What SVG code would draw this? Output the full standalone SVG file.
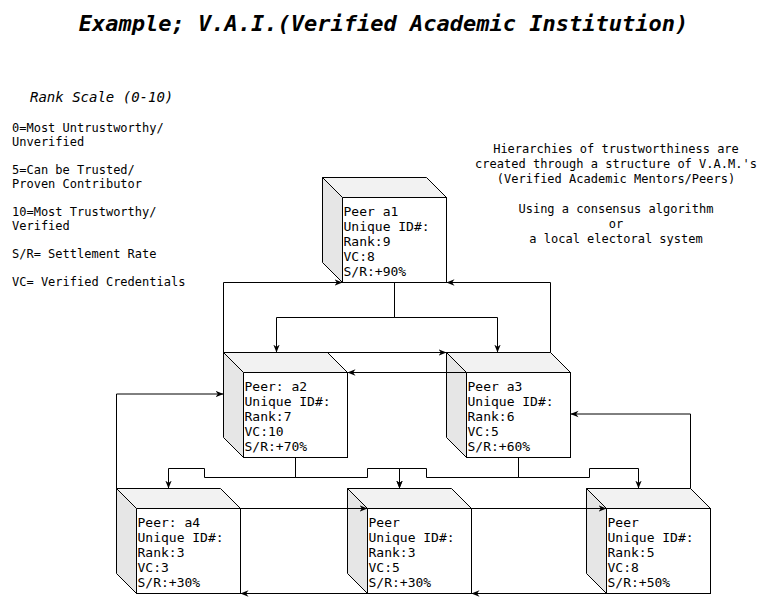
<svg xmlns="http://www.w3.org/2000/svg" width="777" height="612" viewBox="0 0 777 612">
<defs>
<style>
text{font-family:"DejaVu Sans Mono","Liberation Mono",monospace;fill:#000}
.t{font-size:13px}
.s{font-size:12px}
.c{text-anchor:middle}
.front{fill:#fff;stroke:#000;stroke-width:1}
.top{fill:#f2f2f2;stroke:#000;stroke-width:1}
.side{fill:#e6e6e6;stroke:#000;stroke-width:1}
.e{fill:none;stroke:#000;stroke-width:1;marker-end:url(#arr)}
.l{fill:none;stroke:#000;stroke-width:1}
</style>
<marker id="arr" viewBox="0 0 10 10" refX="10" refY="5" markerWidth="8" markerHeight="8" markerUnits="userSpaceOnUse" orient="auto">
<path d="M0,1 L10,5 L0,9 L3,5 z" fill="#000"/>
</marker>
</defs>
<rect width="777" height="612" fill="#fff"/>
<text x="383.5" y="31" class="c" style="font-size:22px;font-weight:bold;font-style:italic">Example; V.A.I.(Verified Academic Institution)</text>
<g id="legend">
<text x="30" y="102" style="font-size:14px;font-style:italic">Rank Scale (0-10)</text>
<text class="s" x="12" y="132">0=Most Untrustworthy/</text>
<text class="s" x="12" y="146">Unverified</text>
<text class="s" x="12" y="174">5=Can be Trusted/</text>
<text class="s" x="12" y="188">Proven Contributor</text>
<text class="s" x="12" y="216">10=Most Trustworthy/</text>
<text class="s" x="12" y="230">Verified</text>
<text class="s" x="12" y="258">S/R= Settlement Rate</text>
<text class="s" x="12" y="286">VC= Verified Credentials</text>
</g>
<g id="note">
<text class="s c" x="616" y="153">Hierarchies of trustworthiness are</text>
<text class="s c" x="616" y="168">created through a structure of V.A.M.'s</text>
<text class="s c" x="616" y="183">(Verified Academic Mentors/Peers)</text>
<text class="s c" x="616" y="213">Using a consensus algorithm</text>
<text class="s c" x="616" y="228">or</text>
<text class="s c" x="616" y="243">a local electoral system</text>
</g>
<g transform="translate(0.5,0.5)">
<g id="a1">
<rect class="front" x="342" y="197" width="104" height="85"/>
<polygon class="top" points="322,177 426,177 446,197 342,197"/>
<polygon class="side" points="322,177 342,197 342,282 322,262"/>
<text class="t" x="343" y="215">Peer a1</text>
<text class="t" x="343" y="230">Unique ID#:</text>
<text class="t" x="343" y="245">Rank:9</text>
<text class="t" x="343" y="260">VC:8</text>
<text class="t" x="343" y="275">S/R:+90%</text>
</g>
<g id="a2">
<rect class="front" x="243" y="372" width="104" height="85"/>
<polygon class="top" points="223,352 327,352 347,372 243,372"/>
<polygon class="side" points="223,352 243,372 243,457 223,437"/>
<text class="t" x="244" y="390">Peer: a2</text>
<text class="t" x="244" y="405">Unique ID#:</text>
<text class="t" x="244" y="420">Rank:7</text>
<text class="t" x="244" y="435">VC:10</text>
<text class="t" x="244" y="450">S/R:+70%</text>
</g>
<g id="a3">
<rect class="front" x="466" y="372" width="104" height="85"/>
<polygon class="top" points="446,352 550,352 570,372 466,372"/>
<polygon class="side" points="446,352 466,372 466,457 446,437"/>
<text class="t" x="467" y="390">Peer a3</text>
<text class="t" x="467" y="405">Unique ID#:</text>
<text class="t" x="467" y="420">Rank:6</text>
<text class="t" x="467" y="435">VC:5</text>
<text class="t" x="467" y="450">S/R:+60%</text>
</g>
<g id="a4">
<rect class="front" x="136" y="508" width="104" height="85"/>
<polygon class="top" points="116,488 220,488 240,508 136,508"/>
<polygon class="side" points="116,488 136,508 136,593 116,573"/>
<text class="t" x="137" y="526">Peer: a4</text>
<text class="t" x="137" y="541">Unique ID#:</text>
<text class="t" x="137" y="556">Rank:3</text>
<text class="t" x="137" y="571">VC:3</text>
<text class="t" x="137" y="586">S/R:+30%</text>
</g>
<g id="peer_mid">
<rect class="front" x="367" y="508" width="104" height="85"/>
<polygon class="top" points="347,488 451,488 471,508 367,508"/>
<polygon class="side" points="347,488 367,508 367,593 347,573"/>
<text class="t" x="368" y="526">Peer</text>
<text class="t" x="368" y="541">Unique ID#:</text>
<text class="t" x="368" y="556">Rank:3</text>
<text class="t" x="368" y="571">VC:5</text>
<text class="t" x="368" y="586">S/R:+30%</text>
</g>
<g id="peer_right">
<rect class="front" x="606" y="508" width="104" height="85"/>
<polygon class="top" points="586,488 690,488 710,508 606,508"/>
<polygon class="side" points="586,488 606,508 606,593 586,573"/>
<text class="t" x="607" y="526">Peer</text>
<text class="t" x="607" y="541">Unique ID#:</text>
<text class="t" x="607" y="556">Rank:5</text>
<text class="t" x="607" y="571">VC:8</text>
<text class="t" x="607" y="586">S/R:+50%</text>
</g>
<g id="connectors">
<path class="e" d="M394,282 V317 H276 V352"/>
<path class="e" d="M394,282 V317 H497 V352"/>
<path class="e" d="M223,352 V282 H342"/>
<path class="e" d="M550,352 V282 H446"/>
<path class="e" d="M223,352 H446"/>
<path class="e" d="M466,372 H347"/>
<path class="e" d="M116,488 V393.5 H223"/>
<path class="e" d="M690,488 V413.5 H570"/>
<path class="e" d="M295,457 V477 H204 V468 H168 V488"/>
<path class="e" d="M295,457 V477 H367 V468 H399 V488"/>
<path class="e" d="M518,457 V477 H426 V468 H399 V488"/>
<path class="e" d="M518,457 V477 H589 V468 H638 V488"/>
<path class="e" d="M240,508 H367"/>
<path class="e" d="M471,508 H606"/>
<path class="e" d="M606,593 H471"/>
<path class="e" d="M367,593 H240"/>
</g>
</g>
</svg>
